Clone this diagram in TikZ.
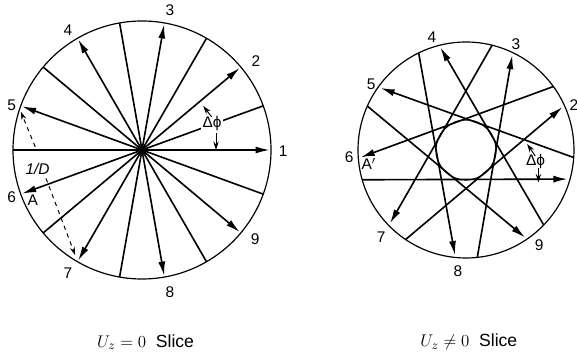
\documentclass[tikz,border=0pt]{standalone}
\usepackage{fontspec}
\setmainfont{Liberation Sans}
\usetikzlibrary{arrows.meta,calc}
\tikzset{
  rim/.style={line width=0.85pt},
  ray/.style={line width=1.15pt, -{Latex[length=10pt,width=5pt]}},
  plain/.style={line width=1.15pt},
  gap/.style={line width=0.7pt, dashed, -{Stealth[length=6pt,width=3.6pt]}},
  tick/.style={line width=0.7pt, -{Stealth[length=6pt,width=3.8pt]}},
  num/.style={font=\fontsize{11}{13}\selectfont, inner sep=0pt},
  caption/.style={inner sep=0pt, font=\fontsize{12.5}{15}\selectfont}
}
\begin{document}
\begin{tikzpicture}
  \useasboundingbox (0,0) rectangle (14.425,8.95);
  % Centred slice
  \coordinate (hub) at (3.55,5.2);
  \draw[rim] (hub) circle (3.225);
  \foreach \ang in {0,40,...,320} {
    \draw[plain] (hub) -- ($(hub)+(\ang+180:3.225)$);
    \draw[ray] (hub) -- ($(hub)+(\ang:3.19)$);
  }
  \fill (hub) circle (0.12);
  % Spacing marks on the centred slice
  \node[num, fill=white, inner sep=1pt] (dphil) at (5.3,5.87) {Δϕ};
  \coordinate (dphitop) at (5.29,6.03);
  \coordinate (dphitip) at (5.08,6.3);
  \coordinate (dphilow) at (5.4,5.62);
  \coordinate (dphibase) at (5.4,5.2);
  \draw[tick] (dphitop) -- (dphitip);
  \draw[tick] (dphilow) -- (dphibase);
  \coordinate (gapa) at (0.88,5.28);
  \coordinate (gapb) at (0.52,6.16);
  \coordinate (gapc) at (1.15,4.49);
  \coordinate (gapd) at (1.88,2.57);
  \draw[gap] (gapa) -- (gapb);
  \draw[gap] (gapc) -- (gapd);
  % Labels of the centred slice
  \node[num] (r1) at (7.08,5.16) {1};
  \node[num] (r2) at (6.4,7.41) {2};
  \node[num] (r3) at (4.25,8.7) {3};
  \node[num] (r4) at (1.7,8.2) {4};
  \node[num] (r5) at (0.29,6.33) {5};
  \node[num] (r6) at (0.29,4.03) {6};
  \node[num] (r7) at (1.7,2.12) {7};
  \node[num] (r8) at (4.25,1.65) {8};
  \node[num] (r9) at (6.38,2.98) {9};
  \node[num, font=\fontsize{11}{13}\selectfont\itshape] (rd) at (0.94,4.72) {1/D};
  \node[num] (ra) at (0.82,3.95) {A};
  % Shifted slice
  \coordinate (mid) at (11.65,5.2);
  \draw[rim] (mid) circle (2.7);
  \draw[rim] (mid) circle (0.75);
  \foreach \ang in {0,40,...,320} {
    \draw[ray] ($(mid)+(\ang+196:2.7)$) -- ($(mid)+(\ang-16:2.64)$);
  }
  % Spacing marks on the shifted slice
  \node[num] (dphir) at (13.39,4.92) {Δϕ};
  \coordinate (dphirtop) at (13.38,5.05);
  \coordinate (dphirtip) at (13.18,5.35);
  \coordinate (dphirlow) at (13.46,4.74);
  \coordinate (dphirbase) at (13.46,4.39);
  \draw[tick] (dphirtop) -- (dphirtip);
  \draw[tick] (dphirlow) -- (dphirbase);
  % Labels of the shifted slice
  \node[num] (s2) at (14.35,6.33) {2};
  \node[num] (s3) at (12.9,7.85) {3};
  \node[num] (s4) at (10.8,8.02) {4};
  \node[num] (s5) at (9.28,6.85) {5};
  \node[num] (s6) at (8.73,5.03) {6};
  \node[num] (s7) at (9.53,3.02) {7};
  \node[num] (s8) at (11.45,2.18) {8};
  \node[num] (s9) at (13.48,2.82) {9};
  \node[num] (sa) at (9.22,4.85) {A$'$};
  % Captions
  \node[caption] (capl) at (3.64,0.4) {$U_z=0$\ \ Slice};
  \node[caption] (capr) at (11.72,0.4) {$U_z\neq0$\ \ Slice};
\end{tikzpicture}
\end{document}
